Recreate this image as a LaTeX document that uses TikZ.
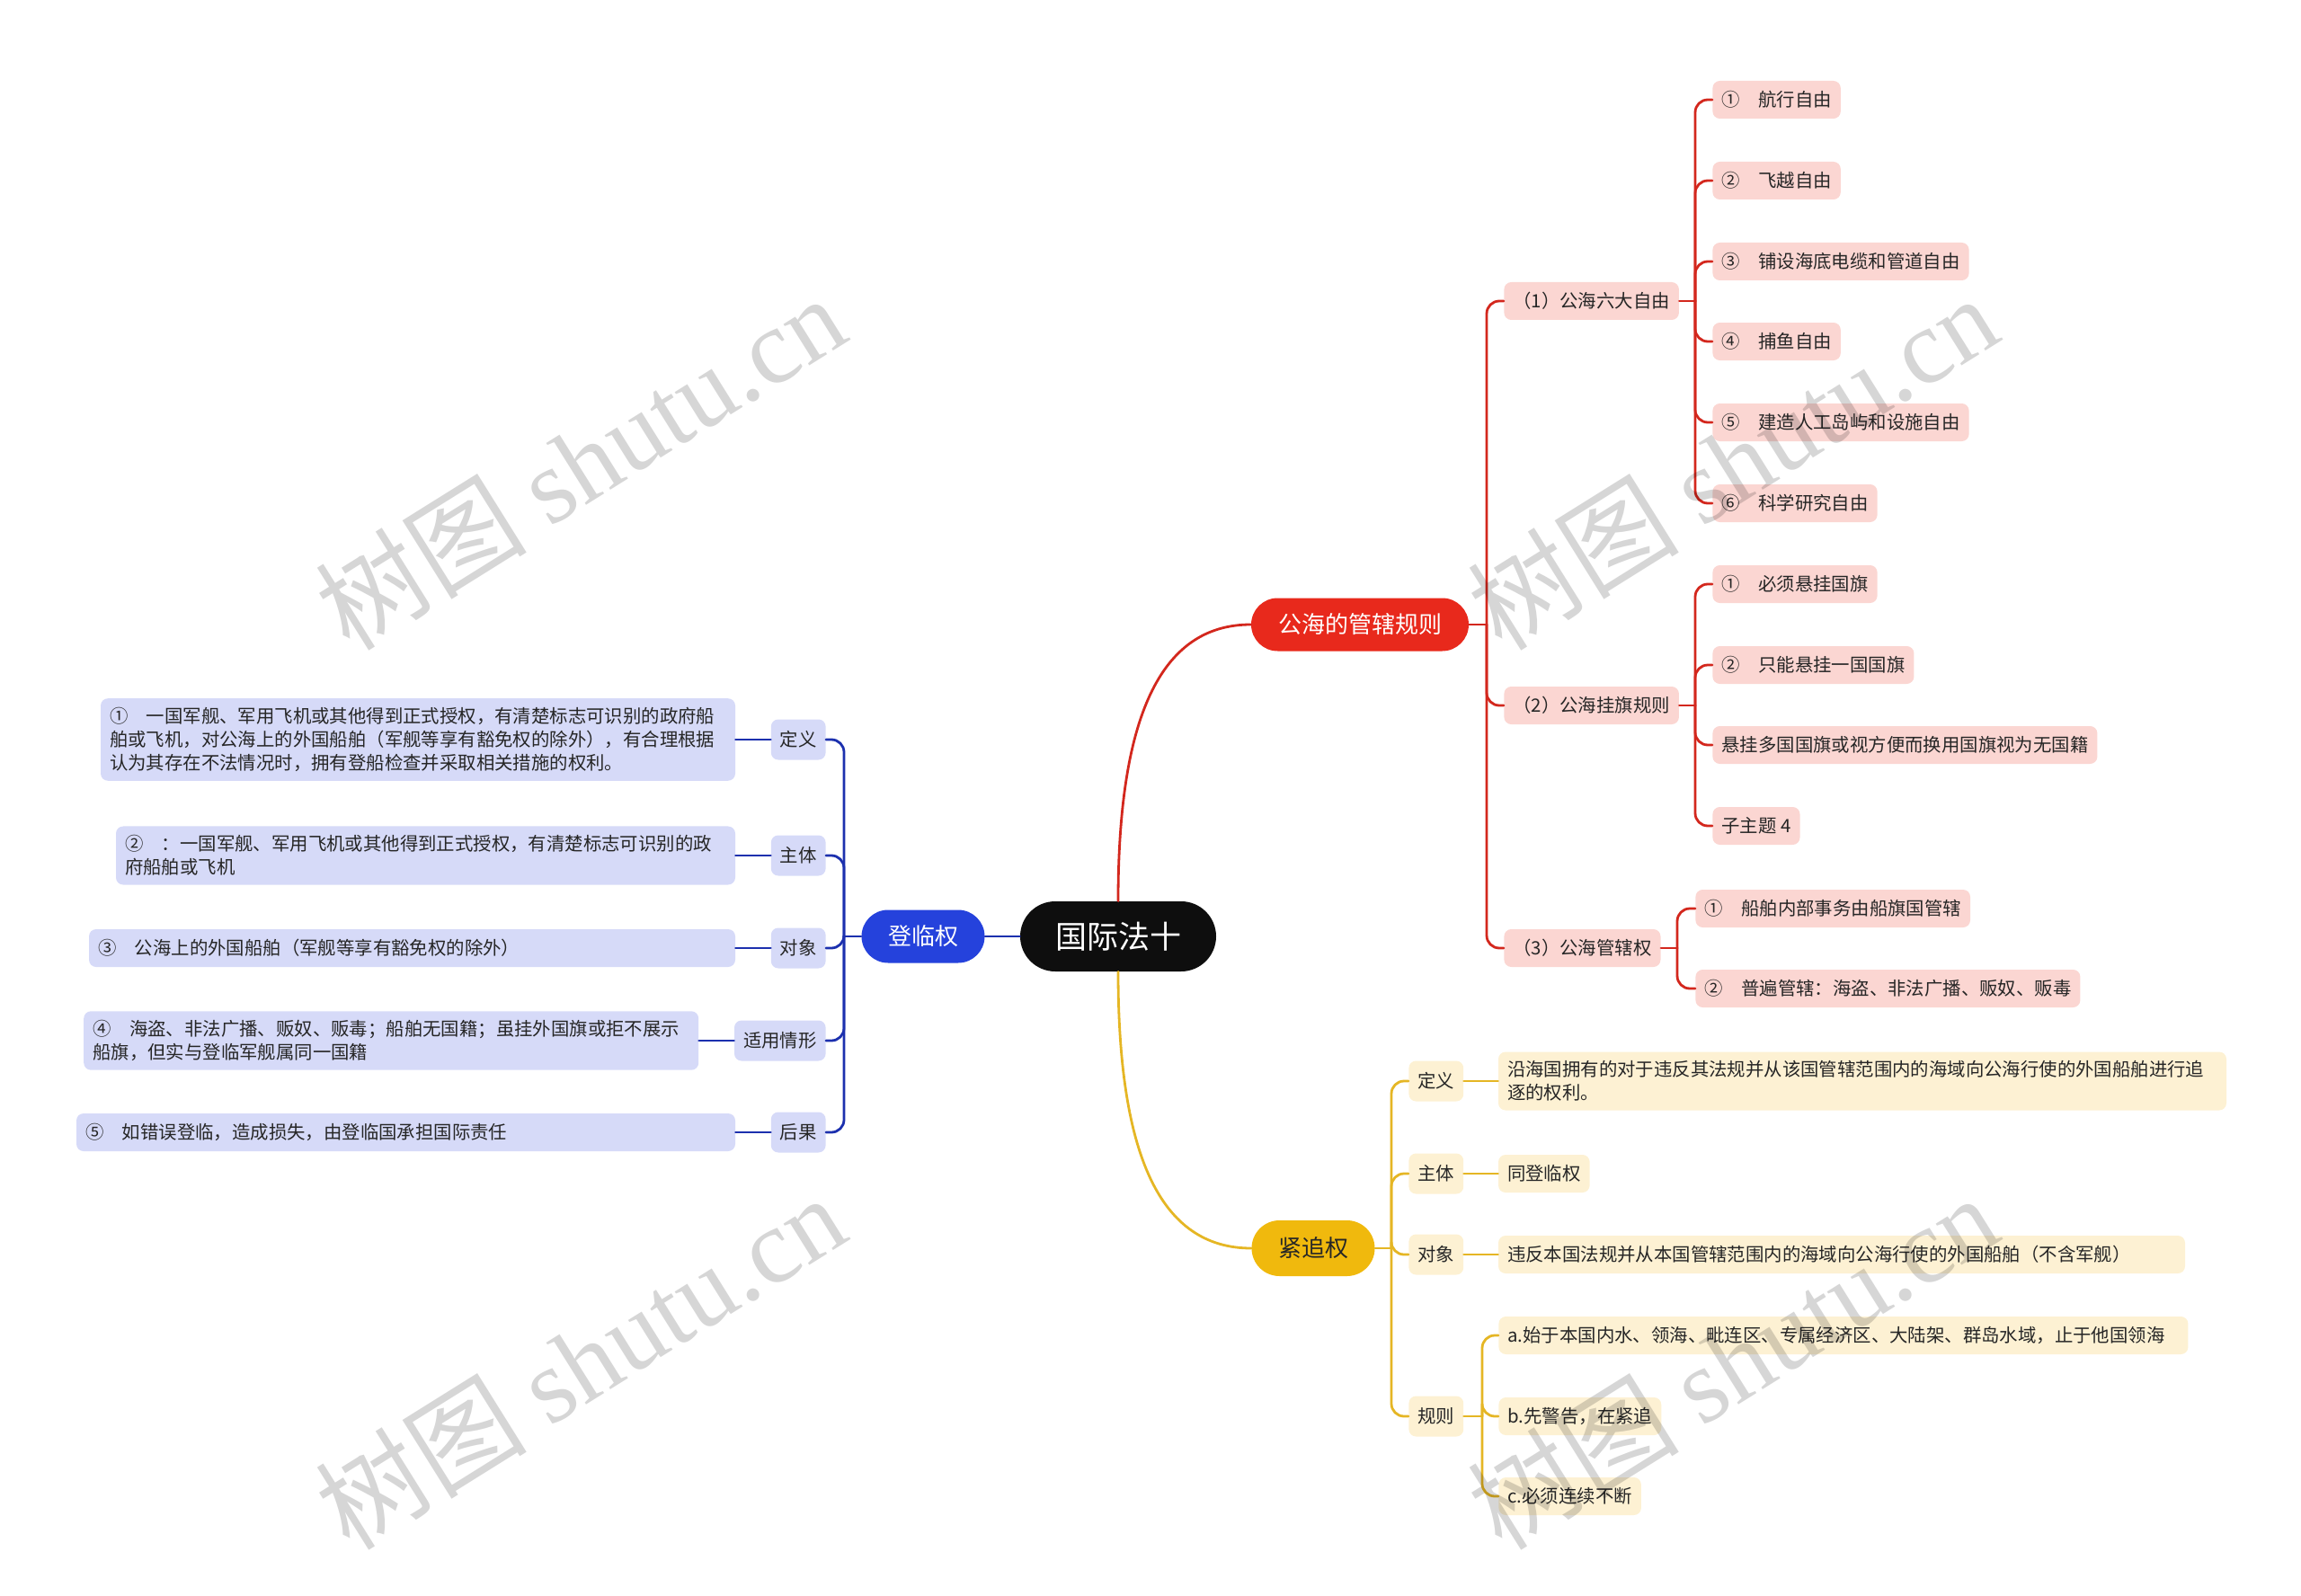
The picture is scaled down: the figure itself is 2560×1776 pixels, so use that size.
\documentclass[tikz,border=0pt]{standalone}
\usepackage{fontspec}
\setmainfont{Noto Sans CJK SC}
\newfontfamily\wmserif{Liberation Serif}
\usepackage{xcolor}
\usepackage{tikz}
\usetikzlibrary{calc,positioning,shapes.misc}

\definecolor{rootblack}{HTML}{0E0E0E}
\definecolor{hsred}{HTML}{E8291C}
\definecolor{hsline}{HTML}{D3271D}
\definecolor{hspink}{HTML}{FBD6D2}
\definecolor{bdblue}{HTML}{2542DC}
\definecolor{bdline}{HTML}{1C30AE}
\definecolor{bdlight}{HTML}{D6DAF8}
\definecolor{hpgold}{HTML}{F0B90D}
\definecolor{hpline}{HTML}{E5B624}
\definecolor{hpcream}{HTML}{FDF1D3}
\definecolor{inktext}{HTML}{262626}

\begin{document}
\begin{tikzpicture}[x=0.5pt, y=0.5pt, line cap=round,
  every node/.style={inner sep=0pt, text=inktext},
  rootnode/.style={rounded rectangle, fill=rootblack, text=white,
    minimum width=109pt, minimum height=39pt, font=\fontsize{17.5}{20}\selectfont},
  mainnode/.style={rounded rectangle, minimum height=29.5pt,
    font=\fontsize{13}{15}\selectfont},
  leaf/.style={rounded corners=4pt, inner xsep=5pt, inner ysep=5pt,
    minimum height=21pt, align=left, font=\fontsize{10.2}{13}\selectfont},
  redleaf/.style={leaf, fill=hspink},
  blueleaf/.style={leaf, fill=bdlight},
  goldleaf/.style={leaf, fill=hpcream},
  tagbox/.style={leaf, minimum height=22.5pt},
  redline/.style={hsline, line width=1.4pt},
  blueline/.style={bdline, line width=1.4pt},
  goldline/.style={hpline, line width=1.4pt},
  wmark/.style={rotate=32, text=black, text opacity=0.16,
    font=\fontsize{59}{59}\selectfont}]

  \useasboundingbox (0,0) rectangle (2560,-1776);

  \newcommand{\fork}[3]{% #1=line style, #2=junction, #3=child anchor
    \draw[#1, rounded corners=7pt] (#2) |- (#3);
  }

  % centre and the three main topics
  \node[rootnode] (root) at (1244,-1042) {国际法十};
  \node[mainnode, fill=hsred, text=white, minimum width=121pt] (gh) at (1513,-695) {公海的管辖规则};
  \node[mainnode, fill=bdblue, text=white, minimum width=68.5pt] (dl) at (1027,-1042) {登临权};
  \node[mainnode, fill=hpgold, minimum width=68.5pt, minimum height=31pt] (jz) at (1461,-1389) {紧追权};

  \draw[redline] (root.north) .. controls (1244,-800) and (1290,-695) .. (gh.west);
  \draw[goldline] (root.south) .. controls (1244,-1284) and (1290,-1389) .. (jz.west);
  \draw[blueline] (root.west) -- (dl.east);

  % 公海的管辖规则
  \node[redleaf, anchor=west] (gh1) at (1673,-335) {（1）公海六大自由};
  \node[redleaf, anchor=west] (gh2) at (1673,-785) {（2）公海挂旗规则};
  \node[redleaf, anchor=west] (gh3) at (1673,-1055) {（3）公海管辖权};

  \node[redleaf, anchor=west] (fr1) at (1905,-111) {①\quad 航行自由};
  \node[redleaf, anchor=west] (fr2) at (1905,-201) {②\quad 飞越自由};
  \node[redleaf, anchor=west] (fr3) at (1905,-291) {③\quad 铺设海底电缆和管道自由};
  \node[redleaf, anchor=west] (fr4) at (1905,-380) {④\quad 捕鱼自由};
  \node[redleaf, anchor=west] (fr5) at (1905,-470) {⑤\quad 建造人工岛屿和设施自由};
  \node[redleaf, anchor=west] (fr6) at (1905,-560) {⑥\quad 科学研究自由};

  \node[redleaf, anchor=west] (fl1) at (1905,-650) {①\quad 必须悬挂国旗};
  \node[redleaf, anchor=west] (fl2) at (1905,-740) {②\quad 只能悬挂一国国旗};
  \node[redleaf, anchor=west] (fl3) at (1905,-829) {悬挂多国国旗或视方便而换用国旗视为无国籍};
  \node[redleaf, anchor=west] (fl4) at (1905,-919) {子主题 4};

  \node[redleaf, anchor=west] (jd1) at (1886,-1011) {①\quad 船舶内部事务由船旗国管辖};
  \node[redleaf, anchor=west] (jd2) at (1886,-1100) {②\quad 普遍管辖：海盗、非法广播、贩奴、贩毒};

  \draw[redline] (gh.east) -- (1654,-695) coordinate (ghj);
  \fork{redline}{ghj}{gh1.west}
  \fork{redline}{ghj}{gh2.west}
  \fork{redline}{ghj}{gh3.west}

  \draw[redline] (gh1.east) -- (1886,-335) coordinate (frj);
  \fork{redline}{frj}{fr1.west}
  \fork{redline}{frj}{fr2.west}
  \fork{redline}{frj}{fr3.west}
  \fork{redline}{frj}{fr4.west}
  \fork{redline}{frj}{fr5.west}
  \fork{redline}{frj}{fr6.west}

  \draw[redline] (gh2.east) -- (1886,-785) coordinate (flj);
  \fork{redline}{flj}{fl1.west}
  \fork{redline}{flj}{fl2.west}
  \fork{redline}{flj}{fl3.west}
  \fork{redline}{flj}{fl4.west}

  \draw[redline] (gh3.east) -- (1866,-1055) coordinate (jdj);
  \fork{redline}{jdj}{jd1.west}
  \fork{redline}{jdj}{jd2.west}

  % 登临权
  \node[tagbox, fill=bdlight, anchor=east] (dlA) at (919,-823) {定义};
  \node[tagbox, fill=bdlight, anchor=east] (dlB) at (919,-952) {主体};
  \node[tagbox, fill=bdlight, anchor=east] (dlC) at (919,-1055) {对象};
  \node[tagbox, fill=bdlight, anchor=east] (dlD) at (919,-1158) {适用情形};
  \node[tagbox, fill=bdlight, anchor=east] (dlE) at (919,-1260) {后果};

  \node[blueleaf, left=19.5pt of dlA, text width=343pt] (dlA1)
    {①\quad 一国军舰、军用飞机或其他得到正式授权，有清楚标志可识别的政府船\\
     舶或飞机，对公海上的外国船舶（军舰等享有豁免权的除外），有合理根据\\
     认为其存在不法情况时，拥有登船检查并采取相关措施的权利。};
  \node[blueleaf, left=19.5pt of dlB, text width=334.5pt] (dlB1)
    {②\quad ：一国军舰、军用飞机或其他得到正式授权，有清楚标志可识别的政\\
     府船舶或飞机};
  \node[blueleaf, left=19.5pt of dlC, text width=349.5pt] (dlC1)
    {③\quad 公海上的外国船舶（军舰等享有豁免权的除外）};
  \node[blueleaf, left=19.5pt of dlD, text width=332pt] (dlD1)
    {④\quad 海盗、非法广播、贩奴、贩毒；船舶无国籍；虽挂外国旗或拒不展示\\
     船旗，但实与登临军舰属同一国籍};
  \node[blueleaf, left=19.5pt of dlE, text width=356.5pt] (dlE1)
    {⑤\quad 如错误登临，造成损失，由登临国承担国际责任};

  \draw[blueline] (dl.west) -- (939,-1042) coordinate (dlj);
  \fork{blueline}{dlj}{dlA.east}
  \fork{blueline}{dlj}{dlB.east}
  \fork{blueline}{dlj}{dlC.east}
  \fork{blueline}{dlj}{dlD.east}
  \fork{blueline}{dlj}{dlE.east}
  \draw[blueline] (dlA.west) -- (dlA1.east);
  \draw[blueline] (dlB.west) -- (dlB1.east);
  \draw[blueline] (dlC.west) -- (dlC1.east);
  \draw[blueline] (dlD.west) -- (dlD1.east);
  \draw[blueline] (dlE.west) -- (dlE1.east);

  % 紧追权
  \node[tagbox, fill=hpcream, anchor=west] (jzA) at (1567,-1203) {定义};
  \node[tagbox, fill=hpcream, anchor=west] (jzB) at (1567,-1306) {主体};
  \node[tagbox, fill=hpcream, anchor=west] (jzC) at (1567,-1396) {对象};
  \node[tagbox, fill=hpcream, anchor=west] (jzD) at (1567,-1576) {规则};

  \node[goldleaf, right=19pt of jzA, text width=395pt] (jzA1)
    {沿海国拥有的对于违反其法规并从该国管辖范围内的海域向公海行使的外国船舶进行追\\
     逐的权利。};
  \node[goldleaf, right=19pt of jzB] (jzB1) {同登临权};
  \node[goldleaf, right=19pt of jzC, text width=372pt] (jzC1)
    {违反本国法规并从本国管辖范围内的海域向公海行使的外国船舶（不含军舰）};

  \node[goldleaf, anchor=west, text width=373.5pt] (rlA) at (1667,-1486)
    {a.始于本国内水、领海、毗连区、专属经济区、大陆架、群岛水域，止于他国领海};
  \node[goldleaf, anchor=west] (rlB) at (1667,-1576) {b.先警告，在紧追};
  \node[goldleaf, anchor=west] (rlC) at (1667,-1665) {c.必须连续不断};

  \draw[goldline] (jz.east) -- (1548,-1389) coordinate (jzj);
  \fork{goldline}{jzj}{jzA.west}
  \fork{goldline}{jzj}{jzB.west}
  \fork{goldline}{jzj}{jzC.west}
  \fork{goldline}{jzj}{jzD.west}
  \draw[goldline] (jzA.east) -- (jzA1.west);
  \draw[goldline] (jzB.east) -- (jzB1.west);
  \draw[goldline] (jzC.east) -- (jzC1.west);

  \draw[goldline] (jzD.east) -- (1649,-1576) coordinate (rlj);
  \fork{goldline}{rlj}{rlA.west}
  \fork{goldline}{rlj}{rlB.west}
  \fork{goldline}{rlj}{rlC.west}

  % watermarks
  \node[wmark] (wm1) at (645,-514) {树图 {\wmserif shutu.cn}};
  \node[wmark] (wm2) at (1927,-514) {树图 {\wmserif shutu.cn}};
  \node[wmark] (wm3) at (645,-1515) {树图 {\wmserif shutu.cn}};
  \node[wmark] (wm4) at (1927,-1515) {树图 {\wmserif shutu.cn}};
\end{tikzpicture}
\end{document}
